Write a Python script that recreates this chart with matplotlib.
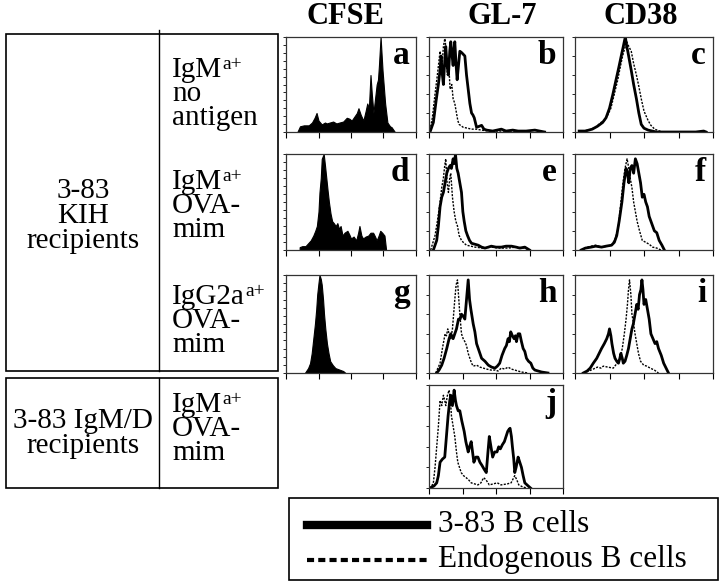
import numpy as np
import matplotlib
matplotlib.use("Agg")
import matplotlib.pyplot as plt
from matplotlib.patches import Rectangle
from matplotlib.lines import Line2D

plt.rcParams['font.family'] = ['Liberation Serif', 'DejaVu Serif']

W, H = 720, 586

# histogram traces: x in log decades (0-4), y in % of max
a_x = [0.35, 0.43, 0.55, 0.7, 0.8, 0.88, 0.94, 1.0, 1.1, 1.2, 1.25, 1.35, 1.45, 1.55, 1.65, 1.76, 1.87, 1.95, 2.02, 2.1, 2.18, 2.23, 2.3, 2.38, 2.45, 2.5, 2.55, 2.6, 2.64, 2.69, 2.74, 2.79, 2.83, 2.86, 2.91, 2.97, 3.05, 3.12, 3.2, 3.25, 3.35]
a_y = [0, 6, 7, 7, 10, 15, 20, 12, 8, 10, 9, 10, 11, 9, 10, 11, 15, 14, 12, 16, 20, 25, 18, 12, 22, 30, 25, 60, 40, 20, 35, 50, 55, 70, 100, 65, 30, 10, 6, 5, 0]

d_x = [0.42, 0.5, 0.6, 0.68, 0.76, 0.84, 0.9, 0.95, 1.0, 1.03, 1.07, 1.1, 1.16, 1.2, 1.24, 1.28, 1.32, 1.37, 1.42, 1.47, 1.53, 1.58, 1.63, 1.68, 1.74, 1.8, 1.89, 1.95, 2.0, 2.08, 2.16, 2.22, 2.26, 2.32, 2.37, 2.45, 2.53, 2.6, 2.68, 2.74, 2.79, 2.85, 2.9, 2.96, 3.03, 3.08]
d_y = [3, 4, 4, 7, 10, 15, 20, 25, 40, 60, 75, 95, 100, 88, 75, 62, 50, 38, 30, 28, 25, 28, 22, 25, 15, 18, 20, 16, 12, 14, 10, 18, 25, 15, 12, 14, 15, 18, 18, 14, 10, 15, 20, 18, 15, 0]

g_x = [0.58, 0.68, 0.74, 0.79, 0.84, 0.89, 0.93, 0.96, 1.0, 1.03, 1.07, 1.1, 1.14, 1.17, 1.21, 1.26, 1.31, 1.36, 1.44, 1.52, 1.6, 1.68, 1.76, 1.83]
g_y = [0, 5, 10, 20, 35, 50, 65, 80, 92, 100, 96, 90, 75, 60, 45, 30, 20, 12, 8, 5, 4, 3, 2, 0]

b_x = [0.03, 0.13, 0.22, 0.28, 0.33, 0.36, 0.4, 0.43, 0.47, 0.5, 0.54, 0.58, 0.62, 0.65, 0.69, 0.72, 0.75, 0.77, 0.81, 0.84, 0.88, 0.92, 0.96, 0.99, 1.07, 1.12, 1.17, 1.22, 1.27, 1.31, 1.35, 1.42, 1.5, 1.57, 1.64, 1.72, 1.9, 2.16, 2.3, 2.5, 2.66, 2.9, 3.16, 3.3, 3.45]
b_y = [0, 10, 35, 50, 65, 80, 60, 50, 75, 90, 70, 60, 85, 95, 80, 70, 88, 95, 70, 55, 70, 85, 84, 83, 80, 60, 45, 30, 20, 18, 15, 5, 6, 7, 3, 2, 1, 3, 1, 2, 1, 1, 2, 1, 0]
b2_x = [0.03, 0.1, 0.18, 0.25, 0.33, 0.36, 0.39, 0.43, 0.48, 0.52, 0.55, 0.59, 0.63, 0.68, 0.72, 0.77, 0.82, 0.86, 0.9, 1.02, 1.15, 1.27, 1.4, 1.57, 1.8, 2.06, 2.5, 2.86]
b2_y = [2, 15, 40, 60, 85, 75, 70, 90, 100, 75, 60, 70, 45, 50, 35, 30, 20, 12, 8, 5, 4, 3, 3, 2, 1, 1, 1, 0]

c_x = [0.12, 0.3, 0.5, 0.65, 0.8, 0.9, 1.0, 1.1, 1.19, 1.27, 1.34, 1.4, 1.44, 1.46, 1.5, 1.53, 1.58, 1.63, 1.7, 1.78, 1.85, 1.92, 2.0, 2.12, 2.36, 3.5, 3.73, 3.8]
c_y = [1, 1, 3, 6, 10, 15, 25, 40, 55, 68, 80, 90, 97, 100, 90, 85, 75, 65, 50, 35, 20, 8, 4, 2, 0, 0, 1, 0]
c2_x = [0.2, 0.4, 0.6, 0.75, 0.85, 0.95, 1.04, 1.14, 1.24, 1.31, 1.38, 1.44, 1.5, 1.56, 1.63, 1.7, 1.78, 1.85, 1.92, 2.0, 2.12, 2.2, 2.31, 2.45, 2.56]
c2_y = [1, 2, 5, 10, 12, 18, 25, 40, 55, 68, 80, 88, 95, 90, 85, 72, 60, 48, 35, 22, 12, 7, 3, 1, 0]

e_x = [0.13, 0.23, 0.28, 0.33, 0.38, 0.43, 0.48, 0.53, 0.58, 0.63, 0.67, 0.72, 0.76, 0.79, 0.83, 0.87, 0.92, 0.97, 1.01, 1.05, 1.1, 1.15, 1.21, 1.27, 1.37, 1.47, 1.57, 1.67, 1.77, 1.86, 2.0, 2.16, 2.3, 2.46, 2.6, 2.71, 2.86, 3.0]
e_y = [0, 10, 25, 45, 55, 60, 70, 80, 85, 88, 85, 95, 90, 100, 85, 80, 70, 60, 40, 30, 20, 15, 10, 7, 6, 5, 3, 2, 3, 4, 3, 3, 4, 4, 3, 2, 3, 0]
e2_x = [0.05, 0.18, 0.25, 0.33, 0.38, 0.43, 0.47, 0.5, 0.54, 0.58, 0.62, 0.65, 0.7, 0.75, 0.8, 0.85, 0.9, 0.97, 1.05, 1.12, 1.25, 1.37, 1.6, 1.86, 2.1, 2.36, 2.6, 2.86, 3.0]
e2_y = [0, 15, 30, 50, 65, 75, 88, 95, 70, 60, 75, 80, 55, 40, 30, 25, 15, 10, 7, 5, 4, 3, 2, 3, 2, 2, 3, 2, 0]

f_x = [0.18, 0.3, 0.47, 0.6, 0.77, 0.9, 1.06, 1.14, 1.21, 1.28, 1.36, 1.42, 1.48, 1.52, 1.56, 1.6, 1.65, 1.7, 1.75, 1.8, 1.85, 1.9, 1.95, 2.0, 2.05, 2.1, 2.15, 2.22, 2.3, 2.37, 2.44, 2.52, 2.59]
f_y = [0, 2, 3, 4, 3, 4, 5, 8, 15, 30, 50, 70, 85, 80, 70, 85, 88, 80, 95, 90, 80, 70, 55, 58, 50, 45, 35, 28, 20, 18, 10, 5, 0]
f2_x = [0.18, 0.35, 0.47, 0.6, 0.77, 0.95, 1.06, 1.17, 1.26, 1.33, 1.39, 1.45, 1.51, 1.56, 1.6, 1.65, 1.7, 1.75, 1.8, 1.87, 1.95, 2.05, 2.15, 2.25, 2.37, 2.49]
f2_y = [0, 3, 4, 5, 3, 4, 5, 12, 25, 50, 70, 85, 95, 85, 75, 65, 50, 40, 30, 20, 10, 8, 6, 3, 2, 0]

h_x = [0.23, 0.3, 0.38, 0.45, 0.53, 0.6, 0.65, 0.72, 0.77, 0.82, 0.88, 0.93, 0.97, 1.02, 1.07, 1.12, 1.17, 1.21, 1.25, 1.32, 1.37, 1.42, 1.5, 1.57, 1.67, 1.77, 1.87, 1.97, 2.04, 2.11, 2.18, 2.26, 2.31, 2.36, 2.4, 2.44, 2.49, 2.54, 2.58, 2.61, 2.66, 2.71, 2.76, 2.81, 2.86, 2.91, 2.97, 3.04, 3.1, 3.16, 3.36, 3.55]
h_y = [0, 3, 8, 15, 25, 35, 40, 35, 40, 45, 55, 55, 60, 58, 55, 75, 95, 75, 65, 50, 42, 30, 22, 15, 12, 8, 6, 5, 7, 10, 18, 25, 28, 35, 32, 42, 38, 35, 38, 32, 40, 40, 32, 25, 22, 15, 12, 10, 5, 3, 1, 0]
h2_x = [0.2, 0.33, 0.4, 0.48, 0.52, 0.56, 0.6, 0.65, 0.7, 0.77, 0.81, 0.85, 0.88, 0.92, 0.97, 1.02, 1.07, 1.12, 1.17, 1.22, 1.27, 1.32, 1.42, 1.52, 1.62, 1.72, 1.85, 1.97, 2.06, 2.16, 2.26, 2.36, 2.46, 2.56, 2.76, 2.96]
h2_y = [0, 10, 25, 40, 38, 45, 40, 35, 45, 75, 90, 95, 80, 60, 40, 35, 32, 28, 20, 15, 10, 7, 8, 6, 5, 4, 3, 3, 2, 5, 4, 6, 4, 3, 1, 0]

i_x = [0.24, 0.35, 0.44, 0.53, 0.63, 0.7, 0.77, 0.85, 0.92, 0.97, 1.0, 1.04, 1.07, 1.12, 1.16, 1.21, 1.26, 1.3, 1.33, 1.37, 1.4, 1.45, 1.5, 1.55, 1.6, 1.65, 1.69, 1.74, 1.79, 1.83, 1.87, 1.91, 1.94, 1.97, 2.0, 2.05, 2.1, 2.15, 2.2, 2.26, 2.32, 2.37, 2.42, 2.5, 2.57, 2.64, 2.71]
i_y = [0, 2, 5, 10, 15, 20, 25, 30, 35, 40, 45, 38, 30, 20, 15, 12, 10, 15, 20, 15, 10, 12, 18, 25, 35, 45, 50, 60, 70, 65, 80, 85, 95, 85, 70, 75, 65, 55, 40, 35, 30, 32, 25, 18, 10, 5, 0]
i2_x = [0.24, 0.4, 0.53, 0.65, 0.75, 0.82, 0.95, 1.11, 1.22, 1.31, 1.37, 1.43, 1.48, 1.52, 1.55, 1.58, 1.62, 1.65, 1.7, 1.74, 1.79, 1.84, 1.9, 1.99, 2.08, 2.18, 2.3, 2.42]
i2_y = [0, 2, 4, 6, 5, 7, 6, 5, 10, 15, 25, 40, 55, 70, 85, 95, 80, 60, 50, 40, 30, 20, 12, 8, 7, 5, 3, 0]

j_x = [0.03, 0.15, 0.23, 0.28, 0.33, 0.4, 0.47, 0.52, 0.57, 0.62, 0.65, 0.7, 0.75, 0.79, 0.82, 0.87, 0.92, 0.98, 1.05, 1.1, 1.17, 1.21, 1.26, 1.3, 1.34, 1.4, 1.46, 1.52, 1.58, 1.65, 1.71, 1.76, 1.8, 1.85, 1.9, 1.96, 2.03, 2.08, 2.13, 2.19, 2.25, 2.3, 2.35, 2.39, 2.42, 2.46, 2.49, 2.53, 2.56, 2.6, 2.66, 2.71, 2.76, 2.81, 2.86, 2.96, 3.03]
j_y = [0, 2, 5, 12, 25, 28, 30, 50, 70, 85, 90, 80, 95, 85, 80, 75, 75, 65, 55, 45, 35, 40, 45, 35, 25, 30, 30, 25, 22, 18, 15, 35, 50, 40, 30, 35, 35, 40, 38, 42, 45, 50, 55, 57, 58, 50, 40, 28, 15, 20, 30, 25, 20, 12, 5, 2, 0]
j2_x = [0.0, 0.08, 0.13, 0.18, 0.23, 0.28, 0.33, 0.38, 0.43, 0.47, 0.5, 0.55, 0.6, 0.64, 0.67, 0.72, 0.77, 0.82, 0.86, 0.91, 0.96, 1.03, 1.11, 1.18, 1.26, 1.36, 1.46, 1.55, 1.63, 1.7, 1.8, 1.92, 2.04, 2.15, 2.34, 2.45, 2.56, 2.62, 2.68, 2.8, 2.93]
j2_y = [0, 2, 5, 20, 40, 60, 85, 80, 90, 85, 80, 90, 95, 85, 70, 60, 50, 35, 25, 20, 15, 12, 10, 8, 5, 4, 3, 5, 10, 8, 3, 4, 5, 3, 4, 5, 12, 8, 3, 1, 0]

col_titles = ['CFSE', 'GL-7', 'CD38']
group_labels = [['3-83', 'KIH', 'recipients'], ['3-83 IgM/D', 'recipients']]
row_labels = [['IgM', 'no', 'antigen'], ['IgM', 'OVA-', 'mim'],
              ['IgG2a', 'OVA-', 'mim'], ['IgM', 'OVA-', 'mim']]
legend_labels = ['3-83 B cells', 'Endogenous B cells']

fig = plt.figure(figsize=(W / 100, H / 100), dpi=100)
renderer = fig.canvas.get_renderer()


def px(x0, y0, x1, y1):
    return [x0 / W, 1 - y1 / H, (x1 - x0) / W, (y1 - y0) / H]


cols = [(286, 416), (429, 563), (575, 713)]
rows = [(37, 132), (154, 250), (275, 373), (385, 488)]


def make_panel(ci, ri, letter, filled=None, solid=None, dashed=None):
    ax = fig.add_axes(px(cols[ci][0], rows[ri][0], cols[ci][1], rows[ri][1]))
    if filled is not None:
        xs = 10 ** np.array(filled[0])
        ax.fill_between(xs, filled[1], 0, color='black', lw=0.8)
    if dashed is not None:
        ax.plot(10 ** np.array(dashed[0]), dashed[1], color='black', lw=1.0,
                linestyle=(0, (1.5, 1.0)))
    if solid is not None:
        ax.plot(10 ** np.array(solid[0]), solid[1], color='black', lw=2.0)
    ax.set_xscale('log')
    ax.set_xlim(1, 1e4)
    ax.set_ylim(0, 100)
    nt = 13 if ci == 0 else 6
    ax.set_yticks(np.linspace(0, 100, nt))
    ax.set_xticks([1, 10, 100, 1000, 10000])
    ax.tick_params(axis='x', which='major', length=4, width=0.8, direction='out')
    ax.tick_params(axis='x', which='minor', length=2, width=0.6, direction='out')
    ax.tick_params(axis='y', length=2.5, width=0.6, direction='out')
    ax.set_xticklabels([])
    ax.set_yticklabels([])
    ax.xaxis.set_minor_formatter(plt.NullFormatter())
    for s in ax.spines.values():
        s.set_linewidth(0.9)
        s.set_color('#333333')
    ax.text(0.95, 0.97, letter, transform=ax.transAxes, ha='right', va='top',
            fontsize=24, fontweight='bold')
    return ax


make_panel(0, 0, 'a', filled=(a_x, a_y))
make_panel(1, 0, 'b', solid=(b_x, b_y), dashed=(b2_x, b2_y))
make_panel(2, 0, 'c', solid=(c_x, c_y), dashed=(c2_x, c2_y))
make_panel(0, 1, 'd', filled=(d_x, d_y))
make_panel(1, 1, 'e', solid=(e_x, e_y), dashed=(e2_x, e2_y))
make_panel(2, 1, 'f', solid=(f_x, f_y), dashed=(f2_x, f2_y))
make_panel(0, 2, 'g', filled=(g_x, g_y))
make_panel(1, 2, 'h', solid=(h_x, h_y), dashed=(h2_x, h2_y))
make_panel(2, 2, 'i', solid=(i_x, i_y), dashed=(i2_x, i2_y))
make_panel(1, 3, 'j', solid=(j_x, j_y), dashed=(j2_x, j2_y))

# column titles
for t, cx in zip(col_titles, [345, 502, 641]):
    fig.text(cx / W, 1 - 16 / H, t, ha='center', va='center', fontsize=22,
             fontweight='bold')


def box(x0, y0, x1, y1, lw=1.2):
    fig.add_artist(Rectangle((x0 / W, 1 - y1 / H), (x1 - x0) / W, (y1 - y0) / H,
                             transform=fig.transFigure, fill=False,
                             edgecolor='black', lw=lw))


def vline(x, y0, y1, lw=1.0):
    fig.add_artist(Line2D([x / W, x / W], [1 - y0 / H, 1 - y1 / H],
                          transform=fig.transFigure, color='black', lw=lw))


def txt(x, y, s, ha='left', size=21):
    return fig.text(x / W, 1 - y / H, s, ha=ha, va='baseline', fontsize=size)


# row labels table
box(6, 34, 278, 371)
vline(159, 30, 371)
box(6, 378, 278, 488)
vline(159, 378, 488)

for lines, x, y0 in zip(group_labels, [83, 83], [198, 428]):
    for k, s in enumerate(lines):
        txt(x, y0 + 25 * k, s, ha='center')

for lines, y0 in zip(row_labels, [77, 189, 304, 412]):
    for k, s in enumerate(lines):
        t = txt(172, y0 + 24 * k, s)
        if k == 0:
            bb = t.get_window_extent(renderer)
            fig.text(bb.x1 / W + 0.5 / W, 1 - (y0 - 8) / H, 'a+', ha='left',
                     va='baseline', fontsize=14)

# legend
box(289, 498, 718, 580)
fig.add_artist(Line2D([307 / W, 427 / W], [1 - 525 / H, 1 - 525 / H],
                      transform=fig.transFigure, color='black', lw=6))
fig.add_artist(Line2D([307 / W, 427 / W], [1 - 560 / H, 1 - 560 / H],
                      transform=fig.transFigure, color='black', lw=3,
                      linestyle=(0, (1.7, 1.0))))
txt(438, 532, legend_labels[0], size=22.5)
txt(438, 567, legend_labels[1], size=22.5)

fig.savefig('out.png', dpi=100)
